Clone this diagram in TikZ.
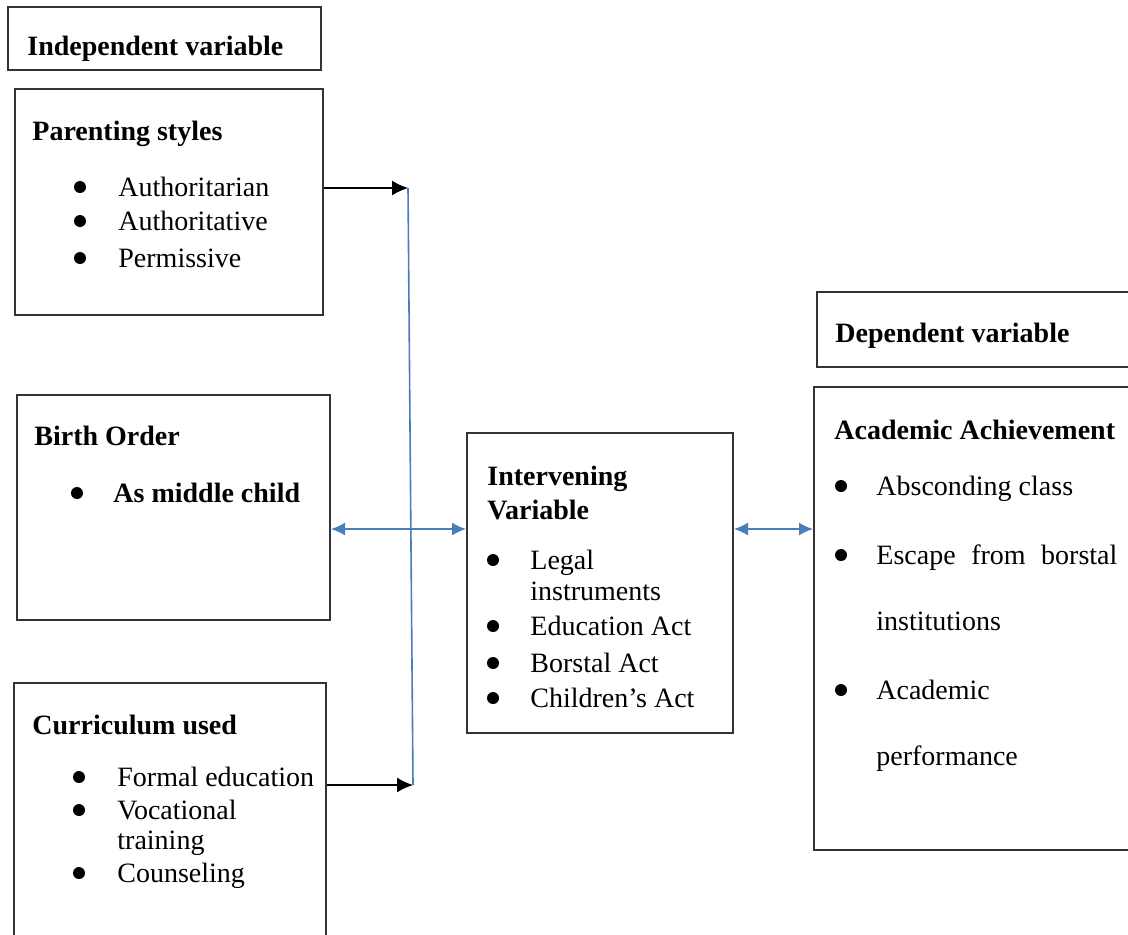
\documentclass[tikz,border=0pt]{standalone}
\usepackage{fontspec}
\setmainfont{Liberation Serif}
\usetikzlibrary{arrows.meta,fit}

\definecolor{linkblue}{HTML}{4A7EBB}
\definecolor{boxgray}{HTML}{333333}

\begin{document}
\begin{tikzpicture}[
	x=0.5pt, y=-0.5pt,
	font=\fontsize{14}{17}\selectfont,
	box/.style={draw=boxgray, line width=1pt, inner sep=0pt},
	txt/.style={inner sep=0pt, anchor=base west, yshift=-1pt},
	dot/.style={circle, fill=black, inner sep=0pt, minimum size=6pt, yshift=3.5pt},
	feed/.style={draw=black, line width=0.7pt, -{Latex[length=8pt,width=7.5pt]}},
	link/.style={draw=linkblue, line width=0.8pt, {Latex[length=7pt,width=6.5pt]}-{Latex[length=7pt,width=6.5pt]}}]
	\clip (0,0) rectangle (1128,934);
	\fill[white] (0,0) rectangle (1128,934);

	% boxes
	\node[box, fit={(8,7) (321,70)}] (indep) {};
	\node[box, fit={(15,89) (323,315)}] (parent) {};
	\node[box, fit={(17,395) (330,620)}] (birth) {};
	\node[box, fit={(14,683) (326,945)}] (curric) {};
	\node[box, fit={(467,433) (733,733)}] (interv) {};
	\node[box, fit={(817,292) (1140,367)}] (dep) {};
	\node[box, fit={(814,387) (1140,850)}] (achieve) {};

	% headings
	\node[txt] (indeptxt) at (27,53) {\textbf{Independent variable}};
	\node[txt] (parenttxt) at (32,138) {\textbf{Parenting styles}};
	\node[txt] (birthtxt) at (34,443) {\textbf{Birth Order}};
	\node[txt] (currictxt) at (32,732) {\textbf{Curriculum used}};
	\node[txt] (intervtxt) at (487,483) {\textbf{Intervening}};
	\node[txt] (intervtxtb) at (487,517) {\textbf{Variable}};
	\node[txt] (deptxt) at (835,340) {\textbf{Dependent variable}};
	\node[txt] (achievetxt) at (834,437) {\textbf{Academic Achievement}};

	% bullet lists
	\foreach \name/\y/\item in {pa/194/Authoritarian, pb/228/Authoritative, pc/265/Permissive} {
		\node[dot] (b\name) at (80,\y) {};
		\node[txt] (\name) at (118,\y) {\item};
	}
	\node[dot] (bba) at (77,500) {};
	\node[txt] (ba) at (113,500) {\textbf{As middle child}};
	\foreach \name/\y/\item in {ca/784/Formal education, cb/817/Vocational, cc/880/Counseling} {
		\node[dot] (b\name) at (79,\y) {};
		\node[txt] (\name) at (117,\y) {\item};
	}
	\node[txt] (cbb) at (117,847) {training};
	\foreach \name/\y/\item in {ia/567/Legal, ib/633/Education Act, ic/670/Borstal Act, id/705/Children’s Act} {
		\node[dot] (b\name) at (493,\y) {};
		\node[txt] (\name) at (530,\y) {\item};
	}
	\node[txt] (iab) at (530,598) {instruments};
	\foreach \name/\y/\item in {aa/493/Absconding class, ab/562/\makebox[120.5pt][s]{Escape from borstal}, ac/697/Academic} {
		\node[dot] (b\name) at (841,\y) {};
		\node[txt] (\name) at (876,\y) {\item};
	}
	\node[txt] (abb) at (876,628) {institutions};
	\node[txt] (acb) at (876,763) {performance};

	% connectors
	\coordinate (jtop) at (408,188);
	\coordinate (jbot) at (413,785);
	\coordinate (mid) at (0,529);
	\draw[feed] (parent.east |- jtop) -- (jtop);
	\draw[feed] (curric.east |- jbot) -- (jbot);
	\draw[draw=linkblue, line width=0.8pt] (jtop) -- (jbot);
	\draw[link] (birth.east |- mid) -- (interv.west |- mid);
	\draw[link] (interv.east |- mid) -- (achieve.west |- mid);
\end{tikzpicture}
\end{document}
